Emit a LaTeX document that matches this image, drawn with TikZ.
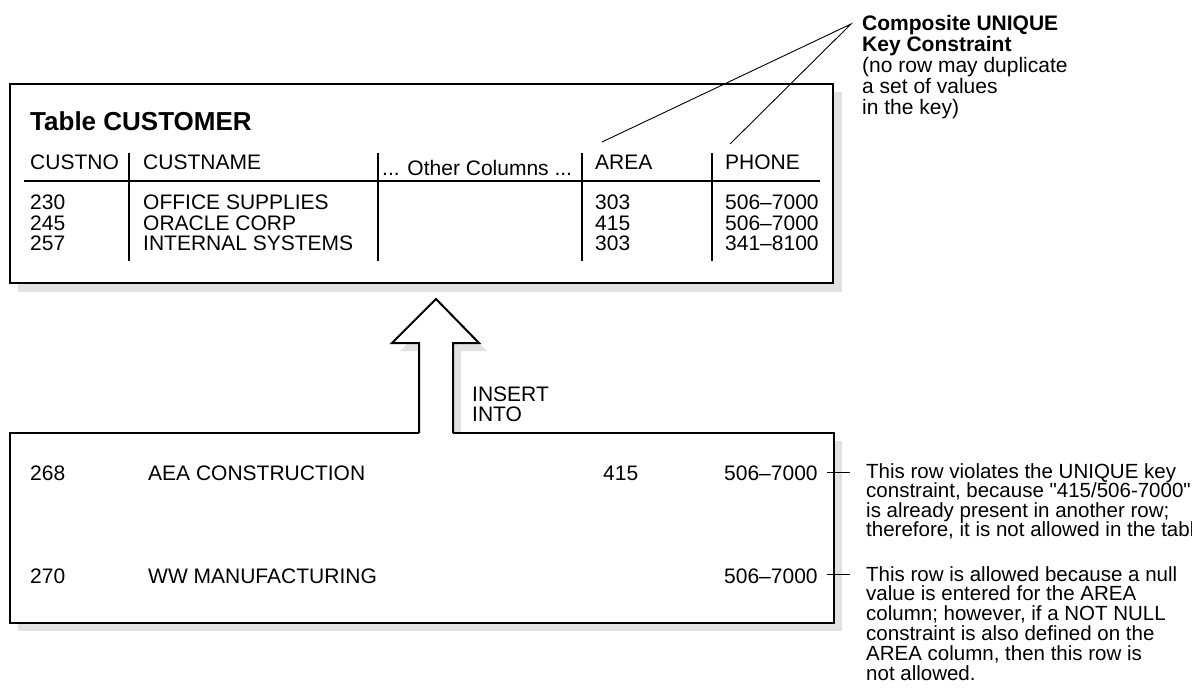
\documentclass[tikz,border=0pt]{standalone}
\usepackage{fontspec}
\setmainfont{Liberation Sans}[Ligatures=TeXOff]
\definecolor{shadowgray}{HTML}{E2E2E2}
\begin{document}
\begin{tikzpicture}[x=1pt,y=-1pt,
  txt/.style={anchor=base west,inner sep=0pt,font=\fontsize{21}{20}\selectfont},
  note/.style={anchor=base west,inner sep=0pt,font=\fontsize{20.5}{20}\selectfont},
  bld/.style={anchor=base west,inner sep=0pt,font=\fontsize{21}{20}\selectfont\bfseries},
  ttl/.style={anchor=base west,inner sep=0pt,font=\fontsize{26}{30}\selectfont\bfseries},
  frame/.style={line width=2pt,line join=miter},
  colline/.style={line width=2pt},
  leader/.style={line width=0.9pt},
  dropshadow/.style={fill=shadowgray}]
\useasboundingbox (0,0) rectangle (1192,694);

% ---------- top table box ----------
\fill[dropshadow] (18,92) rectangle (842,292);
\draw[frame,fill=white] (10,84) rectangle (833,283);

\node[ttl] (title) at (30,130) {Table CUSTOMER};
\node[txt] (h1) at (30,169) {CUSTNO};
\node[txt] (h2) at (143,169) {CUSTNAME};
\node[txt] (h3) at (382,175) {... Other Columns ...};
\node[txt] (h4) at (595,169) {AREA};
\node[txt] (h5) at (725,169) {PHONE};
\draw[colline] (24,181) -- (820,181);
\foreach \x in {129,378,582,712} \draw[colline] (\x,153) -- (\x,261);

\foreach \a/\b/\c/\d [count=\i] in {230/OFFICE SUPPLIES/303/506–7000,245/ORACLE CORP/415/506–7000,257/INTERNAL SYSTEMS/303/341–8100}{
  \node[txt] (ra\i) at (30,{209.5+20.5*(\i-1)}) {\a};
  \node[txt] (rb\i) at (143,{209.5+20.5*(\i-1)}) {\b};
  \node[txt] (rc\i) at (595,{209.5+20.5*(\i-1)}) {\c};
  \node[txt] (rd\i) at (725,{209.5+20.5*(\i-1)}) {\d};
}

% ---------- composite key note ----------
\coordinate (apex) at (851,24);
\coordinate (areatip) at (602,142);
\coordinate (phonetip) at (730,144);
\draw[leader] (areatip) -- (apex) -- (phonetip);
\node[bld] (k1) at (862,30) {Composite UNIQUE};
\node[bld] (k2) at (862,51.5) {Key Constraint};
\node[txt] (k3) at (862,72) {(no row may duplicate};
\node[txt] (k4) at (862,93) {a set of values};
\node[txt] (k5) at (862,114) {in the key)};

% ---------- arrow and insert box ----------
\fill[dropshadow] (427,441) -- (427,351) -- (400,351) -- (444,307) -- (487,351) -- (461,351) -- (461,441) -- cycle;
\fill[dropshadow] (18,441) rectangle (842,631);
\fill[white] (10,433) rectangle (834,623);
\fill[white] (419,433) -- (419,343) -- (392,343) -- (436,299) -- (479,343) -- (453,343) -- (453,433) -- cycle;
\draw[frame] (419,433) -- (419,343) -- (392,343) -- (436,299) -- (479,343) -- (453,343) -- (453,433);
\draw[frame] (419,433) -- (10,433) -- (10,623) -- (834,623) -- (834,433) -- (453,433);

\node[txt] (ins1) at (472,401.5) {INSERT};
\node[txt] (ins2) at (472,421.5) {INTO};

\node[txt] (n1a) at (30,480) {268};
\node[txt] (n1b) at (148,480) {AEA CONSTRUCTION};
\node[txt] (n1c) at (603,480) {415};
\node[txt] (n1d) at (724,480) {506–7000};
\node[txt] (n2a) at (30,583) {270};
\node[txt] (n2b) at (148,583) {WW MANUFACTURING};
\node[txt] (n2d) at (724,583) {506–7000};

\coordinate (t1a) at (827,472);
\coordinate (t1b) at (850,472);
\coordinate (t2a) at (827,574.5);
\coordinate (t2b) at (850,574.5);
\draw[leader] (t1a) -- (t1b);
\draw[leader] (t2a) -- (t2b);

\foreach \t [count=\i] in {{This row violates the UNIQUE key},{constraint, because "415/506-7000"},{is already present in another row;},{therefore, it is not allowed in the table.}}{
  \node[note] (va\i) at (866,{478+19.5*(\i-1)}) {\t};
}
\foreach \t [count=\i] in {{This row is allowed because a null},{value is entered for the AREA},{column; however, if a NOT NULL},{constraint is also defined on the},{AREA column, then this row is},{not allowed.}}{
  \node[note] (vb\i) at (866,{581+19.8*(\i-1)}) {\t};
}
\end{tikzpicture}
\end{document}
